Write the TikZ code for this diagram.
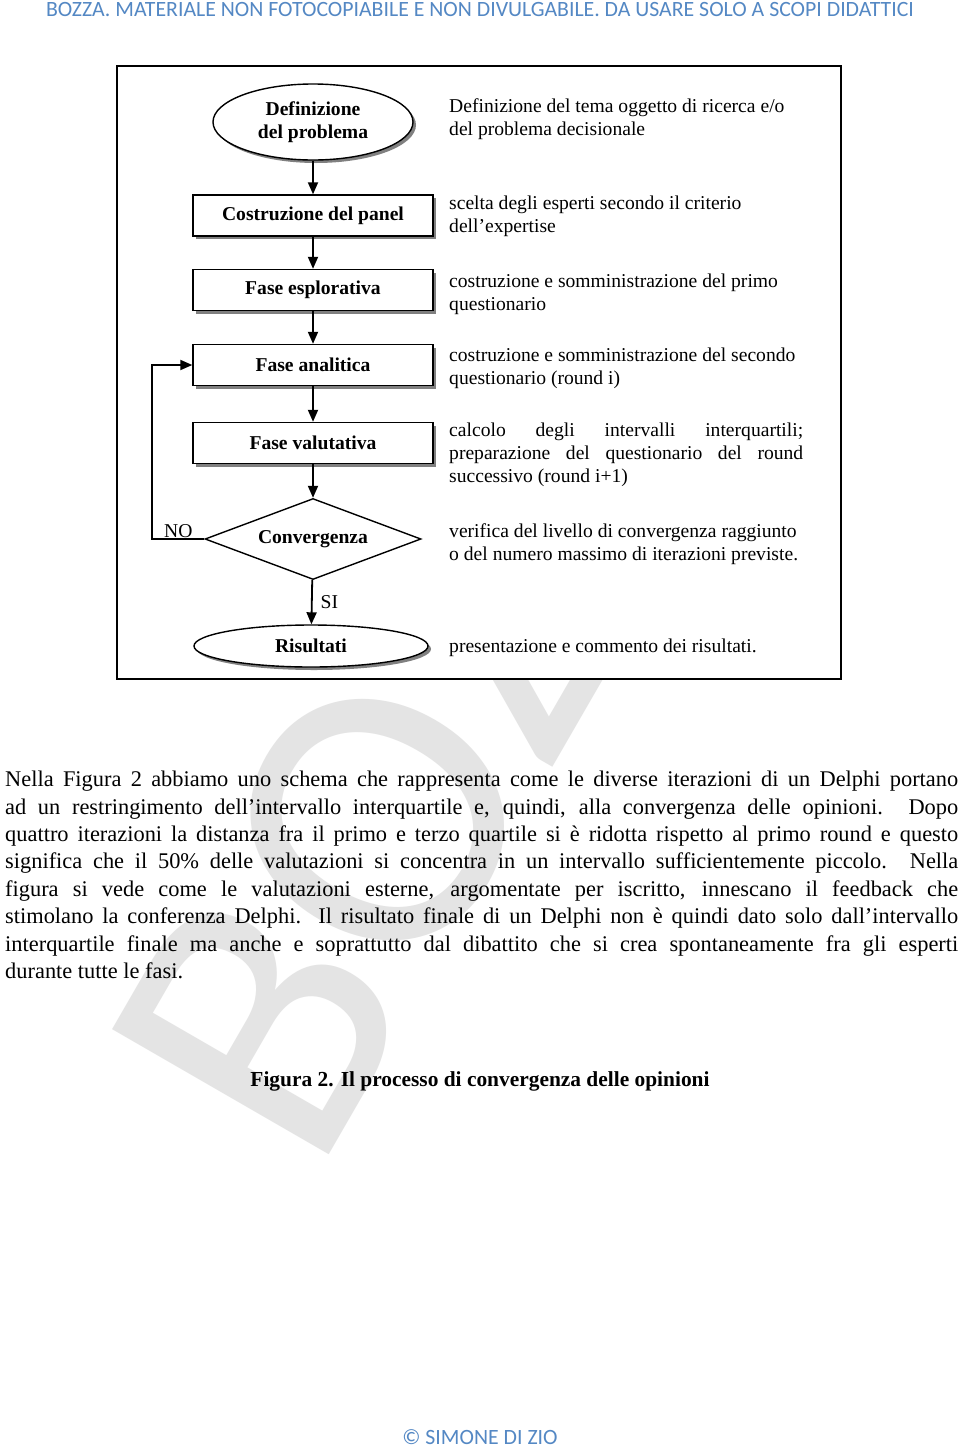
\documentclass[tikz,border=0pt]{standalone}
\usepackage{fontspec}
\setmainfont{Liberation Serif}
\newfontfamily\calfont{Carlito}
\usetikzlibrary{shapes.geometric,arrows.meta,shadows}
\definecolor{hdrblue}{RGB}{84,136,196}
\definecolor{wmgray}{RGB}{228,228,228}
\definecolor{shadowgray}{RGB}{128,128,128}
\begin{document}
\begin{tikzpicture}[x=1pt,y=-1pt,
  tnr/.style={font=\fontsize{19.6}{23}\selectfont},
  lbl/.style={font=\fontsize{19.6}{23}\selectfont\bfseries},
  shad/.style={drop shadow={shadow xshift=3pt,shadow yshift=-3pt,fill=shadowgray,opacity=1}},
  stepbox/.style={lbl,shad,draw,line width=1.4pt,fill=white,minimum width=240pt,minimum height=41pt,inner sep=0pt},
  termell/.style={lbl,shad,ellipse,draw,line width=1.4pt,fill=white,inner sep=0pt,align=center},
  decision/.style={lbl,diamond,aspect=2.67,draw,line width=1.4pt,fill=white,minimum width=216pt,minimum height=81pt,inner sep=0pt},
  flow/.style={line width=1.8pt,-{Triangle[length=12pt,width=10pt]}},
  desc/.style={tnr,anchor=north west,inner sep=0pt,align=left},
  bodytext/.style={anchor=north west,inner sep=0pt,align=left,font=\fontsize{22.4}{27.4}\selectfont},
  banner/.style={anchor=base,inner sep=0pt,text=hdrblue,font=\calfont\fontsize{21.8}{24}\selectfont},
]
\useasboundingbox (0,0) rectangle (960,1449);
\fill[white] (0,0) rectangle (960,1449);
% watermark
\node[text=wmgray, rotate=60, font=\calfont\fontsize{390}{390}\selectfont, inner sep=0pt] (wm) at (470,660) {BOZZA};
% header / footer
\node[banner] (hdr) at (480,16) {BOZZA. MATERIALE NON FOTOCOPIABILE E NON DIVULGABILE. DA USARE SOLO A SCOPI DIDATTICI};
\node[banner] (ftr) at (480,1444) {© SIMONE DI ZIO};
% frame
\node[draw, line width=2pt, fill=white, minimum width=724pt, minimum height=613pt, inner sep=0pt] (frame) at (479,372.5) {};
% flowchart nodes
\node[termell, minimum width=200pt, minimum height=76pt] (def) at (313,122) {Definizione\\del problema};
\node[stepbox] (panel) at (313,215.5) {Costruzione del panel};
\node[stepbox] (esp) at (313,290) {Fase esplorativa};
\node[stepbox] (anal) at (313,365) {Fase analitica};
\node[stepbox] (val) at (313,443) {Fase valutativa};
\node[decision] (conv) at (313,539) {Convergenza};
\node[termell, minimum width=234pt, minimum height=42pt] (ris) at (311,646) {Risultati};
% connectors
\draw[flow] (def) -- (panel);
\draw[flow] (panel) -- (esp);
\draw[flow] (esp) -- (anal);
\draw[flow] (anal) -- (val);
\draw[flow] (val) -- (conv);
\draw[flow] (conv) -- node[tnr, anchor=west, inner sep=0pt, xshift=8pt] (si) {SI} (ris);
\draw[flow] (conv.west) -- ++(-52,0) coordinate (nocorner) |- (anal.west);
\path (conv.west) -- (nocorner) node[midway, above, tnr, inner sep=1pt] (no) {NO};
% descriptions
\node[desc] (d1) at (449,98) {Definizione del tema oggetto di ricerca e/o\\del problema decisionale};
\node[desc] (d2) at (449,196) {scelta degli esperti secondo il criterio\\dell’expertise};
\node[desc] (d3) at (449,274) {costruzione e somministrazione del primo\\questionario};
\node[desc] (d4) at (449,348) {costruzione e somministrazione del secondo\\questionario (round i)};
\node[desc] (d5) at (449,423) {\makebox[354pt][s]{calcolo degli intervalli interquartili;}\\\makebox[354pt][s]{preparazione del questionario del round}\\successivo (round i+1)};
\node[desc] (d6) at (449,523) {verifica del livello di convergenza raggiunto\\o del numero massimo di iterazioni previste.};
\node[desc] (d7) at (449,639) {presentazione e commento dei risultati.};
% body text
\node[bodytext] (body) at (5,771) {%
\makebox[953pt][s]{Nella Figura 2 abbiamo uno schema che rappresenta come le diverse iterazioni di un Delphi portano}\\
\makebox[953pt][s]{ad un restringimento dell’intervallo interquartile e, quindi, alla convergenza delle opinioni. Dopo}\\
\makebox[953pt][s]{quattro iterazioni la distanza fra il primo e terzo quartile si è ridotta rispetto al primo round e questo}\\
\makebox[953pt][s]{significa che il 50\% delle valutazioni si concentra in un intervallo sufficientemente piccolo. Nella}\\
\makebox[953pt][s]{figura si vede come le valutazioni esterne, argomentate per iscritto, innescano il feedback che}\\
\makebox[953pt][s]{stimolano la conferenza Delphi. Il risultato finale di un Delphi non è quindi dato solo dall’intervallo}\\
\makebox[953pt][s]{interquartile finale ma anche e soprattutto dal dibattito che si crea spontaneamente fra gli esperti}\\
durante tutte le fasi.};
% caption
\node[font=\fontsize{21.4}{24}\selectfont\bfseries] (cap) at (480,1081) {Figura 2. Il processo di convergenza delle opinioni};
\end{tikzpicture}
\end{document}
